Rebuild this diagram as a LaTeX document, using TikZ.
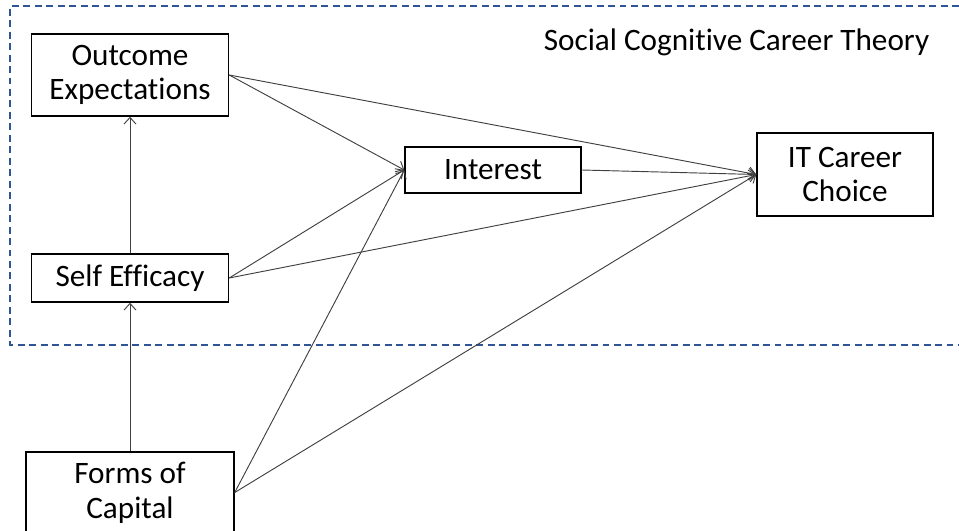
\documentclass[tikz,border=0pt]{standalone}
\usepackage{fontspec}
\setmainfont[Ligatures=NoCommon]{Carlito}
\usetikzlibrary{arrows.meta}

\definecolor{frameblue}{RGB}{47,85,151}
\definecolor{linkgray}{RGB}{64,64,64}
\newdimen\pixel
\pixel=0.75pt

\begin{document}
\begin{tikzpicture}[x=\pixel, y=-\pixel,
        box/.style={draw=black, line width=1.1pt, align=center, inner sep=0pt,
                font=\fontsize{23.4}{26}\selectfont},
        link/.style={draw=linkgray, line width=0.7pt,
                -{Straight Barb[length=5pt, width=9pt]}}]
        \useasboundingbox (0,0) rectangle (959,531);

        % frame of the theory, open on the right
        \draw[frameblue, line width=1.2pt, dash pattern=on 5.2pt off 3.4pt]
                (959,6) -- (10,6) -- (10,345) -- (959,345);
        \node[font=\fontsize{23.4}{26}\selectfont] (sccttitle) at (736.5,42) {Social Cognitive Career Theory};

        \node[box, minimum width=197\pixel, minimum height=82\pixel] (outcome) at (130,75) {Outcome\\Expectations};
        \node[box, minimum width=197\pixel, minimum height=48\pixel] (efficacy) at (130,278) {Self Efficacy};
        \node[box, minimum width=208\pixel, minimum height=81\pixel] (capital) at (130,492.5) {Forms of\\Capital};
        \node[box, minimum width=176\pixel, minimum height=46\pixel] (interest) at (493,170) {Interest};
        \node[box, minimum width=176\pixel, minimum height=83\pixel] (choice) at (845,174.5) {IT Career\\Choice};

        \draw[link] (efficacy) -- (outcome);
        \draw[link] (capital) -- (efficacy);

        \draw[link] (outcome.east) -- (interest.west);
        \draw[link] (outcome.east) -- (choice.west);
        \draw[link] (efficacy.east) -- (interest.west);
        \draw[link] (efficacy.east) -- (choice.west);
        \draw[link] (capital.east) -- (interest.west);
        \draw[link] (capital.east) -- (choice.west);
        \draw[link] (interest.east) -- (choice.west);
    \end{tikzpicture}
\end{document}
